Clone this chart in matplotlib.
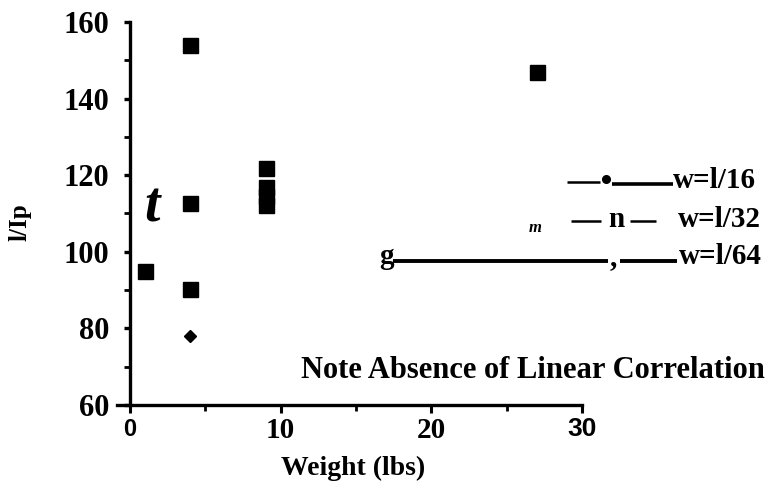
import matplotlib
matplotlib.use("Agg")
import matplotlib.pyplot as plt
from matplotlib.lines import Line2D

# ---- data ----
sq_x = [1, 4, 4, 4, 9, 9, 9, 9, 27]
sq_y = [95, 154, 112.8, 90.3, 122, 117, 114.5, 112.3, 147]
dm_x = [4]
dm_y = [78]
xticks = [0, 10, 20, 30]
yticks = [60, 80, 100, 120, 140, 160]
ytick_labels = ["60", "80", "100", "120", "140", "160"]

W, H = 781, 487
fig = plt.figure(figsize=(W / 100, H / 100), dpi=100)

def fx(px):
    return px / W

def fy(py):
    return 1 - py / H

ax = fig.add_axes([fx(117), fy(405), fx(582) - fx(117), fy(22) - fy(405)])
ax.set_xlim(-0.86, 30)
ax.set_ylim(60, 160)

serif = "Liberation Serif"
sans = "Liberation Sans"

ax.plot(sq_x, sq_y, linestyle="none", marker="s", markersize=10.8, color="black")
ax.plot(dm_x, dm_y, linestyle="none", marker="D", markersize=6, color="black")

for s in ["top", "right"]:
    ax.spines[s].set_visible(False)
ax.spines["left"].set_position(("data", 0))
ax.spines["left"].set_linewidth(2.4)
ax.spines["bottom"].set_linewidth(2.4)

ax.set_xticks(xticks)
ax.set_xticks([5, 15, 25], minor=True)
ax.set_yticks(yticks)
ax.set_yticks([70, 90, 110, 130, 150], minor=True)
ax.tick_params(axis="x", which="major", direction="out", length=6, width=2.2, pad=3)
ax.tick_params(axis="x", which="minor", direction="out", length=4, width=2.0)
ax.tick_params(axis="y", which="major", direction="out", length=4, width=2.4, pad=11)
ax.tick_params(axis="y", which="minor", direction="out", length=4, width=2.0)

ax.set_yticklabels(ytick_labels, fontfamily=serif, fontweight="bold", fontsize=22)
xl = ax.set_xticklabels([str(v) for v in xticks], fontweight="bold", fontsize=16)
for lab, fam, fs in zip(xl, [sans, serif, serif, sans], [17, 21, 21, 19]):
    lab.set_fontfamily(fam)
    lab.set_fontsize(fs)

fig.text(fx(20), fy(222), "l/Ip", rotation=90, fontfamily=serif, fontweight="bold",
         fontsize=18, ha="center", va="center")
fig.text(fx(353), fy(468), "Weight (lbs)", fontfamily=serif, fontweight="bold",
         fontsize=20, ha="center", va="center")

fig.text(fx(152), fy(207), "t", fontfamily=serif, fontweight="bold", style="italic",
         fontsize=40, ha="center", va="center")

fig.text(fx(533), fy(378), "Note Absence of Linear Correlation", fontfamily=serif,
         fontweight="bold", fontsize=22, ha="center", va="baseline")

# legend-like annotations
lk = dict(color="black", transform=fig.transFigure, solid_capstyle="butt")
tk = dict(fontfamily=serif, fontweight="bold", fontsize=21, va="center")
fig.add_artist(Line2D([fx(567), fx(600)], [fy(182), fy(182)], linewidth=1.8, **lk))
fig.add_artist(Line2D([fx(606)], [fy(179)], marker="o", markersize=5.5, linestyle="none",
                      color="black", transform=fig.transFigure))
fig.add_artist(Line2D([fx(612), fx(673)], [fy(184), fy(184)], linewidth=2.6, **lk))
fig.text(fx(673), fy(181), "w=l/16", ha="left", **tk)

fig.text(fx(535), fy(228), "m", fontfamily=serif, style="italic", fontweight="bold",
         fontsize=12, ha="center", va="center")
fig.add_artist(Line2D([fx(571), fx(601)], [fy(221), fy(221)], linewidth=1.8, **lk))
fig.text(fx(616), fy(219), "n", ha="center", **tk)
fig.add_artist(Line2D([fx(630), fx(656)], [fy(221), fy(221)], linewidth=1.8, **lk))
fig.text(fx(678), fy(219), "w=l/32", ha="left", **tk)

fig.text(fx(386), fy(256), "g", ha="center", **tk)
fig.add_artist(Line2D([fx(393), fx(608)], [fy(261), fy(261)], linewidth=2.8, **lk))
fig.text(fx(613), fy(258), ",", ha="center", **tk)
fig.add_artist(Line2D([fx(620), fx(677)], [fy(261), fy(261)], linewidth=2.8, **lk))
fig.text(fx(679), fy(257), "w=l/64", ha="left", **tk)

fig.savefig("out.png", dpi=100)
